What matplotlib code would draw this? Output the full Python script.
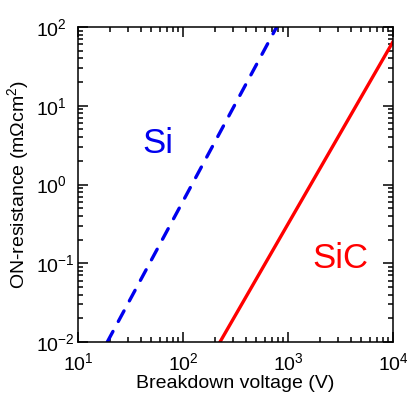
import matplotlib
matplotlib.use('Agg')
import matplotlib.pyplot as plt

plt.rcParams['font.family'] = ['Liberation Sans', 'DejaVu Sans']
plt.rcParams['mathtext.default'] = 'regular'
plt.rcParams['axes.unicode_minus'] = False

# end points of the two limit lines
si_voltage = [19, 780]
si_resistance = [0.01, 100]
sic_voltage = [225, 10000]
sic_resistance = [0.01, 65]

W, H = 407, 396
fig = plt.figure(figsize=(W / 100, H / 100), dpi=100)
ax = fig.add_axes([78 / W, 1 - 342 / H, 315 / W, 315 / H])

ax.plot(si_voltage, si_resistance, color='#0000ee', lw=2.4,
        ls=(0, (3.6, 3.4)), dash_capstyle='round')
ax.plot(sic_voltage, sic_resistance, color='#ff0000', lw=2.4)

ax.set_xscale('log')
ax.set_yscale('log')
ax.set_xlim(10, 1e4)
ax.set_ylim(1e-2, 1e2)

# material labels, placed in figure pixels (from top-left)
ax.text(158 / W, 1 - 143 / H, 'Si', color='#0000ee', fontsize=25,
        ha='center', va='center', transform=fig.transFigure)
ax.text(340 / W, 1 - 258 / H, 'SiC', color='#ff0000', fontsize=25,
        ha='center', va='center', transform=fig.transFigure)

ax.set_xlabel('Breakdown voltage (V)', fontsize=14, labelpad=1)
ax.set_ylabel('ON-resistance (m\u03a9cm$^2$)', fontsize=14)
ax.yaxis.set_label_coords(-0.15, 0.5)

ax.tick_params(which='both', direction='in', top=True, right=True, width=1.1)
ax.tick_params(which='major', length=7, labelsize=14)
ax.tick_params(which='minor', length=3.5)
ax.tick_params(axis='x', which='major', pad=7)
# y tick labels in the reference are left-aligned
ax.tick_params(axis='y', which='major', pad=30)
for lbl in ax.get_yticklabels():
    lbl.set_horizontalalignment('left')
for s in ax.spines.values():
    s.set_linewidth(1.1)

fig.savefig('out.png', dpi=100)
